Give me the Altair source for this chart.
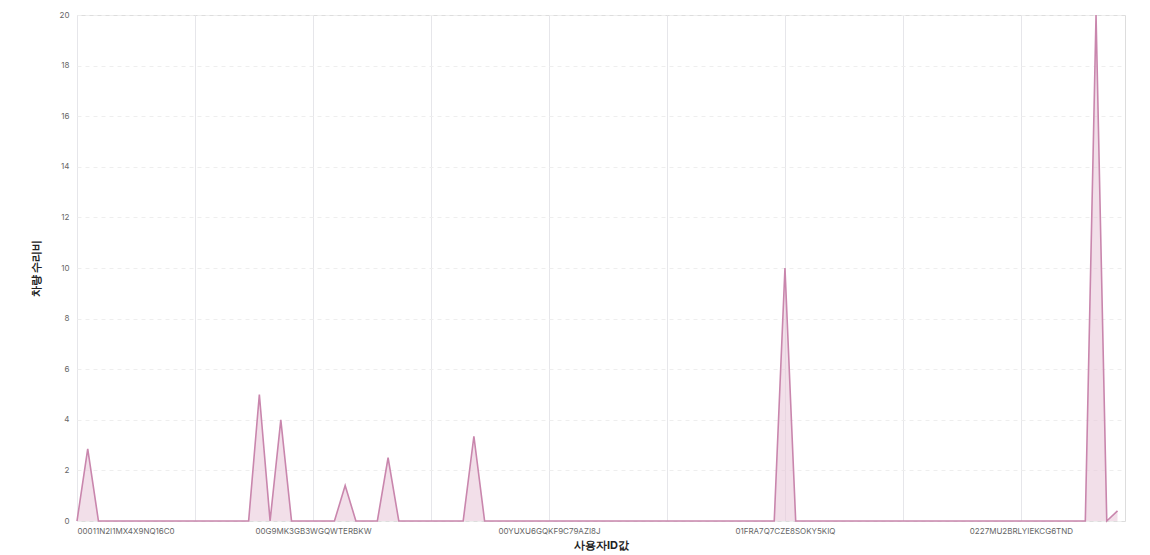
import altair as alt
import pandas as pd

# labelled user IDs (every 11th point on the x axis)
shown_ids = ["00011N2I1MX4X9NQ16C0", "00A9E5CM3LTP4OZOYBDI", "00G9MK3GB3WGQWTERBKW",
             "00OCK9YE5IIASFBMJX5H", "00YUXU6GQKF9C79AZI8J", "014XPRFMAKKN1UN5HJ0A",
             "01FRA7Q7CZE8SOKY5KIQ", "01Q9YQEP8RZ2O8FVBFGP", "0227MU2BRLYIEKCG6TND"]
n_points = 98
# non-zero repair costs by point index; all others are 0
peak_index = [1, 17, 19, 25, 29, 37, 66, 95, 97]
peak_value = [2.85, 5.0, 4.0, 1.4, 2.5, 3.35, 10.0, 20.0, 0.4]

costs = [0.0] * n_points
for i, v in zip(peak_index, peak_value):
    costs[i] = v
df = pd.DataFrame({"idx": list(range(n_points)), "cost": costs})

label_expr = "[" + ",".join(f"'{s}'" for s in shown_ids) + "][round(datum.value/11)]"
font = "Inter"

base = alt.Chart(df).encode(
    x=alt.X("idx:Q", title="사용자ID값",
            scale=alt.Scale(domain=[0, 97.7], nice=False, zero=False),
            axis=alt.Axis(values=[11 * k for k in range(9)], labelExpr=label_expr,
                          grid=True, gridColor="#e6e6ea", gridDash=[], domain=False,
                          ticks=False, labelFontSize=8, labelColor="#666",
                          titleFontSize=11, titleColor="#222", labelPadding=6)),
    y=alt.Y("cost:Q", title="차량 수리비",
            scale=alt.Scale(domain=[0, 20], nice=False),
            axis=alt.Axis(values=list(range(0, 21, 2)), gridDash=[4, 4], gridColor="#eeeeee",
                          domain=False, ticks=False, labelFontSize=8, labelColor="#666",
                          titleFontSize=11, titleColor="#222", titlePadding=18, labelPadding=8)),
)

area = base.mark_area(color="#e9cadb", opacity=0.6)
line = base.mark_line(color="#c986ad", strokeWidth=1.6)

chart = alt.layer(area, line).properties(
    width=1048, height=506,
    autosize=alt.AutoSizeParams(type="none"),
    padding={"left": 69, "top": 7, "right": 10, "bottom": 40},
).configure_view(stroke=None).configure(font=font)

chart.save("out.html", embed_options={"renderer": "svg", "actions": False})
